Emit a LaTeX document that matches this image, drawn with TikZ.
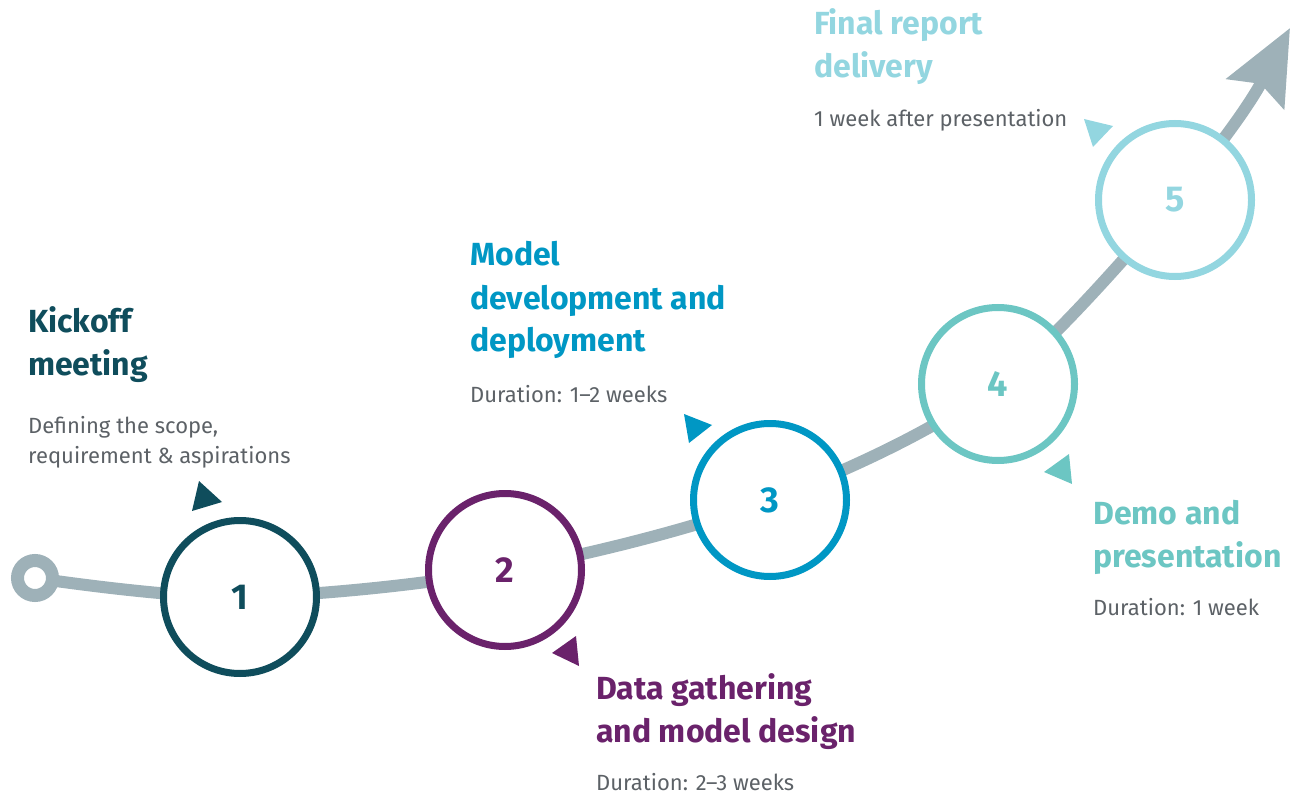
\documentclass[tikz,border=0pt]{standalone}
\usepackage{fontspec}
\setmainfont{Fira Sans}
\usepackage{tikz}
\usetikzlibrary{arrows.meta}

\definecolor{kickoff}{RGB}{15,77,92}
\definecolor{gather}{RGB}{106,34,107}
\definecolor{develop}{RGB}{0,151,196}
\definecolor{demo}{RGB}{108,198,195}
\definecolor{final}{RGB}{147,214,224}
\definecolor{roadgray}{RGB}{158,177,184}
\definecolor{txtgray}{RGB}{92,97,102}

\begin{document}
\begin{tikzpicture}[x=1pt,y=-1pt,
  road/.style={line width=12pt, draw=roadgray, line cap=round},
  milestone/.style={circle, draw=#1, fill=white, line width=7pt, minimum size=153pt,
    inner sep=0pt, text=#1, font=\fontsize{36}{36}\selectfont\bfseries},
  head/.style={anchor=base west, align=left, inner sep=0pt, text=#1,
    font=\fontsize{32}{43}\selectfont\bfseries},
  desc/.style={anchor=base west, align=left, inner sep=0pt, text=txtgray,
    font=\fontsize{22}{30}\selectfont}]

\useasboundingbox (0,0) rectangle (1293,794);

\coordinate (s) at (35,578);
\coordinate (p1) at (240,597);
\coordinate (p2) at (505,570);
\coordinate (p3) at (770,500);
\coordinate (p4) at (998,384);
\coordinate (p5) at (1175,200);
\coordinate (tip) at (1290,28);

% road and arrow
\draw[road] plot[smooth, tension=0.55] coordinates {(s) (p1) (p2) (p3) (p4) (p5)};
\draw[road, line cap=butt, -{Stealth[length=74pt, width=64pt, inset=11pt]}] (p5) to[bend right=6] (tip);

\node[circle, draw=roadgray, fill=white, line width=13pt, minimum size=35pt, inner sep=0pt] (start) at (s) {};

\node[milestone=kickoff] (c1) at (p1) {1};
\node[milestone=gather] (c2) at (p2) {2};
\node[milestone=develop] (c3) at (p3) {3};
\node[milestone=demo] (c4) at (p4) {4};
\node[milestone=final] (c5) at (p5) {5};

% little pointers
\foreach \col/\ax/\ay/\bx/\by/\cx/\cy in {kickoff/199/481/222/502/192/511,
    gather/576/636/552/653/579/666,
    develop/684/414/712/425/689/443,
    demo/1069/454/1044/472/1072/484,
    final/1084/119/1113/126/1093/147}
  \fill[\col] (\ax,\ay) -- (\bx,\by) -- (\cx,\cy) -- cycle;

% labels (anchored at the baseline of their last line)
\node[head=kickoff] (h1) at (28,375) {Kickoff\\meeting};
\node[desc] (d1) at (28,463) {Defining the scope,\\requirement \& aspirations};

\node[head=gather] (h2) at (596,742) {Data gathering\\and model design};
\node[desc] (d2) at (596,790) {Duration: 2--3 weeks};

\node[head=develop] (h3) at (470,352) {Model\\development and\\deployment};
\node[desc] (d3) at (470,402) {Duration: 1--2 weeks};

\node[head=demo] (h4) at (1093,567) {Demo and\\presentation};
\node[desc] (d4) at (1093,615) {Duration: 1 week};

\node[head=final] (h5) at (814,78) {Final report\\delivery};
\node[desc] (d5) at (814,127) {1 week after presentation};

\end{tikzpicture}
\end{document}
